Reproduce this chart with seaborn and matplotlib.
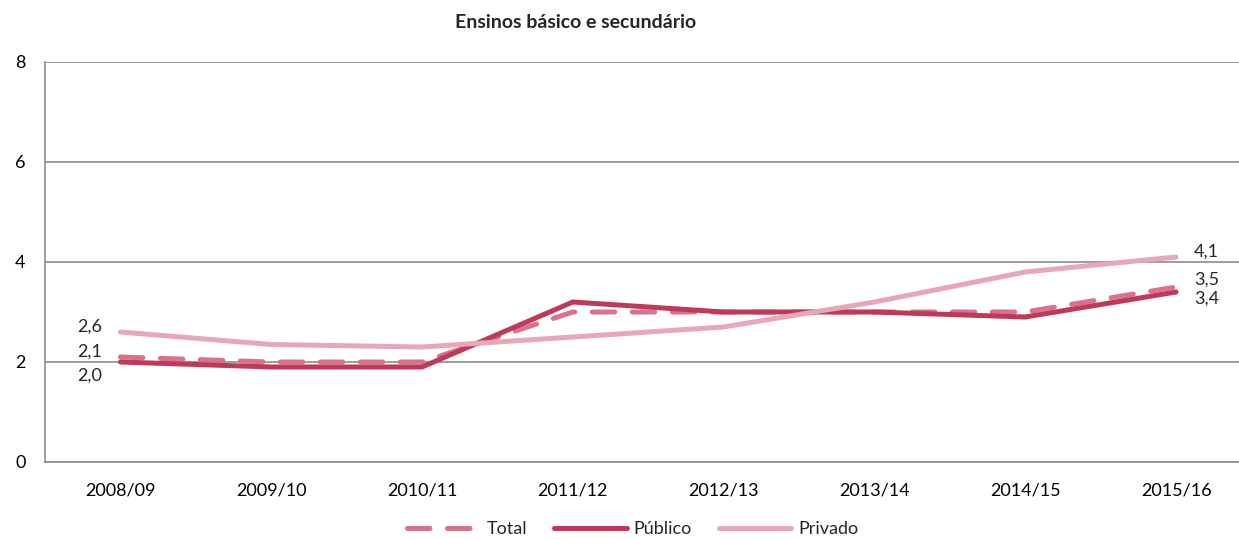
import matplotlib
matplotlib.use("Agg")
import matplotlib.pyplot as plt
import seaborn as sns
import pandas as pd
import numpy as np

years = ["2008/09", "2009/10", "2010/11", "2011/12", "2012/13", "2013/14", "2014/15", "2015/16"]
total = [2.1, 2.0, 2.0, 3.0, 3.0, 3.0, 3.0, 3.5]
publico = [2.0, 1.9, 1.9, 3.2, 3.0, 3.0, 2.9, 3.4]
privado = [2.6, 2.35, 2.3, 2.5, 2.7, 3.2, 3.8, 4.1]

sns.set_theme(style="white")
plt.rcParams['font.family'] = ['Lato', 'DejaVu Sans']

fig = plt.figure(figsize=(12.39, 5.39), dpi=100)
ax = fig.add_axes([45/1239, 77/539, 1 - 45/1239, 400/539])

x = np.arange(len(years))
df = pd.DataFrame({"x": x, "Total": total, "Público": publico, "Privado": privado})

c_total = "#d9728b"
c_pub = "#c0385a"
c_priv = "#e8a7b7"

sns.lineplot(data=df, x="x", y="Total", ax=ax, color=c_total, lw=3.6,
             label="Total", dashes=False)
ax.lines[-1].set_dashes([4.5, 3.5])
ax.lines[-1].set_dash_capstyle("round")
sns.lineplot(data=df, x="x", y="Público", ax=ax, color=c_pub, lw=3.6, label="Público")
ax.lines[-1].set_solid_capstyle("round")
sns.lineplot(data=df, x="x", y="Privado", ax=ax, color=c_priv, lw=3.6, label="Privado")
ax.lines[-1].set_solid_capstyle("round")

ax.set_xlim(-0.5, (1239 - 120) / 150.86)
ax.set_ylim(0, 8)
ax.set_yticks([0, 2, 4, 6, 8])
ax.set_xticks(x)
ax.set_xticklabels(years)
ax.set_xlabel("")
ax.set_ylabel("")
ax.grid(axis="y", color="#8c8c8c", lw=1.2)
ax.set_axisbelow(True)
for s in ["top", "right"]:
    ax.spines[s].set_visible(False)
ax.spines["left"].set_color("#8c8c8c")
ax.spines["bottom"].set_color("#8c8c8c")
ax.spines["left"].set_linewidth(1.2)
ax.spines["bottom"].set_linewidth(1.2)
ax.tick_params(axis="both", labelsize=13, colors="black", length=0)
ax.tick_params(axis="x", pad=15)
ax.tick_params(axis="y", pad=14)

fs = 13
fmt = lambda v: f"{v:.1f}".replace(".", ",")
ax.text(x[0] - 0.12, privado[0] + 0.1, fmt(privado[0]), ha="right", va="center", fontsize=fs)
ax.text(x[0] - 0.12, total[0] + 0.1, fmt(total[0]), ha="right", va="center", fontsize=fs)
ax.text(x[0] - 0.12, publico[0] - 0.28, fmt(publico[0]), ha="right", va="center", fontsize=fs)
ax.text(x[-1] + 0.12, privado[-1] + 0.1, fmt(privado[-1]), ha="left", va="center", fontsize=fs)
ax.text(x[-1] + 0.12, total[-1] + 0.14, fmt(total[-1]), ha="left", va="center", fontsize=fs)
ax.text(x[-1] + 0.12, publico[-1] - 0.14, fmt(publico[-1]), ha="left", va="center", fontsize=fs)

ax.get_legend().remove()
h, l = ax.get_legend_handles_labels()
fig.legend(h, l, loc="center", bbox_to_anchor=(633/1239, 1 - 529/539), ncol=3,
           frameon=False, fontsize=13, handlelength=4.0, columnspacing=1.5, handletextpad=0.4)

fig.text(576/1239, 1 - 22/539, "Ensinos básico e secundário", ha="center", va="center",
         fontsize=14, fontweight="bold")

fig.savefig("out.png", dpi=100)
